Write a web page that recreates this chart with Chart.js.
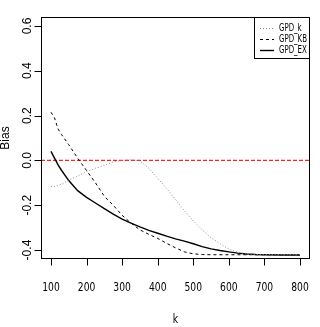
<!DOCTYPE html>
<html lang="en">
<head>
<meta charset="UTF-8">
<title>Bias vs k</title>
<script src="https://cdn.jsdelivr.net/npm/chart.js"></script>
<style>
body { margin:0; background:#fff; }
#wrap { width:320px; height:327px; }
</style>
</head>
<body>
<div id="wrap"><canvas id="biasChart" width="320" height="327"></canvas></div>
<script>
// data (k on x, bias on y)
const kValues = [100, 110, 120, 130, 150, 175, 200, 225, 250, 275, 300, 325, 350, 375, 400, 425, 450, 475, 500, 525, 550, 575, 600, 625, 650, 675, 700, 750, 800];
const gpdK  = [-0.117, -0.117, -0.112, -0.106, -0.088, -0.07, -0.05, -0.035, -0.022, -0.007, 0.0, 0.003, -0.002, -0.035, -0.08, -0.125, -0.175, -0.225, -0.27, -0.31, -0.345, -0.372, -0.395, -0.41, -0.418, -0.42, -0.42, -0.42, -0.42];
const gpdKB = [0.215, 0.19, 0.14, 0.115, 0.07, 0.01, -0.045, -0.1, -0.16, -0.2, -0.245, -0.28, -0.31, -0.33, -0.348, -0.37, -0.39, -0.408, -0.417, -0.42, -0.421, -0.421, -0.421, -0.421, -0.421, -0.421, -0.421, -0.421, -0.421];
const gpdEX = [0.04, 0.01, -0.02, -0.045, -0.09, -0.135, -0.165, -0.19, -0.215, -0.24, -0.262, -0.28, -0.297, -0.312, -0.325, -0.338, -0.35, -0.36, -0.372, -0.385, -0.395, -0.402, -0.408, -0.414, -0.418, -0.42, -0.421, -0.422, -0.422];
const seriesNames = ['GPD_k', 'GPD_KB', 'GPD_EX'];
const refLevel = 0;

const xTicks = [100, 200, 300, 400, 500, 600, 700, 800];
const yTicks = [-0.4, -0.2, 0.0, 0.2, 0.4, 0.6];
const xRange = [72, 828];
const yRange = [-0.44, 0.64];

const narrow = "'Liberation Sans Narrow', 'DejaVu Sans Condensed', 'Liberation Sans', sans-serif";
const regular = "'Liberation Sans', Arial, sans-serif";

function pts(ys) {
  return kValues.map((k, i) => ({x: k, y: ys[i]}));
}

// squeezed text, R's png output draws the x labels quite narrow
function squeezed(ctx, txt, x, y, sx) {
  ctx.save();
  ctx.translate(x, y);
  ctx.scale(sx, 1);
  ctx.fillText(txt, 0, 0);
  ctx.restore();
}

// box, ticks, labels and the boxed legend, R style
const rStyle = {
  id: 'rStyle',
  afterDraw(chart) {
    const ctx = chart.ctx;
    const a = chart.chartArea;
    const xs = chart.scales.x, ys = chart.scales.y;
    const L = Math.round(a.left) + 0.5, B = Math.round(a.bottom) - 0.5;
    ctx.save();
    ctx.strokeStyle = '#000';
    ctx.lineWidth = 1;
    ctx.strokeRect(L, Math.round(a.top) + 0.5, Math.round(a.right - a.left) - 1, Math.round(a.bottom - a.top) - 1);

    // tick marks
    ctx.beginPath();
    xTicks.forEach(v => {
      const px = Math.round(xs.getPixelForValue(v)) + 0.5;
      ctx.moveTo(px, B); ctx.lineTo(px, B + 7);
    });
    yTicks.forEach(v => {
      const py = Math.round(ys.getPixelForValue(v)) + 0.5;
      ctx.moveTo(L, py); ctx.lineTo(L - 7, py);
    });
    ctx.stroke();

    ctx.fillStyle = '#000';
    ctx.font = '12px ' + regular;
    ctx.textAlign = 'center';
    ctx.textBaseline = 'alphabetic';
    yTicks.forEach(v => {
      ctx.save();
      ctx.translate(31, ys.getPixelForValue(v));
      ctx.rotate(-Math.PI / 2);
      ctx.fillText(v.toFixed(1), 0, 0);
      ctx.restore();
    });
    ctx.save();
    ctx.translate(9, 138);
    ctx.rotate(-Math.PI / 2);
    ctx.fillText('Bias', 0, 0);
    ctx.restore();

    ctx.font = '12px ' + narrow;
    xTicks.forEach(v => squeezed(ctx, String(v), xs.getPixelForValue(v), 291, 0.85));
    squeezed(ctx, 'k', (a.left + a.right) / 2, 323, 0.85);

    // legend
    const lw = 56, lh = 42;
    const lx = a.right - lw, ly = a.top;
    ctx.fillStyle = '#fff';
    ctx.fillRect(lx, ly, lw, lh);
    ctx.strokeStyle = '#000';
    ctx.strokeRect(Math.round(lx) + 0.5, Math.round(ly) + 0.5, lw - 1, lh - 1);
    ctx.font = '10px ' + narrow;
    ctx.textAlign = 'left';
    ctx.textBaseline = 'middle';
    seriesNames.forEach((name, i) => {
      const ds = chart.data.datasets[i];
      const yy = ly + 11 + i * 11;
      ctx.save();
      ctx.strokeStyle = ds.borderColor;
      ctx.lineWidth = ds.borderWidth;
      ctx.setLineDash(ds.borderDash || []);
      ctx.beginPath();
      ctx.moveTo(lx + 6, yy + 0.5);
      ctx.lineTo(lx + 20, yy + 0.5);
      ctx.stroke();
      ctx.restore();
      ctx.fillStyle = '#000';
      squeezed(ctx, name, lx + 25, yy, 0.78);
    });
    ctx.restore();
  }
};

new Chart(document.getElementById('biasChart'), {
  type: 'line',
  data: {
    datasets: [
      {label: seriesNames[0], data: pts(gpdK), borderColor: '#8c8c8c', borderWidth: 1, borderDash: [1, 2]},
      {label: seriesNames[1], data: pts(gpdKB), borderColor: '#000', borderWidth: 1, borderDash: [3, 3]},
      {label: seriesNames[2], data: pts(gpdEX), borderColor: '#000', borderWidth: 1.4},
      {label: 'ref', data: [{x: xRange[0], y: refLevel}, {x: xRange[1], y: refLevel}], borderColor: '#ff2020', borderWidth: 1.3, borderDash: [4, 2]}
    ]
  },
  options: {
    responsive: false,
    devicePixelRatio: 1,
    animation: false,
    events: [],
    layout: {padding: {top: 17, right: 10, left: 0, bottom: 0}},
    elements: {point: {radius: 0}, line: {tension: 0}},
    plugins: {legend: {display: false}, tooltip: {enabled: false}},
    scales: {
      x: {
        type: 'linear',
        min: xRange[0], max: xRange[1],
        afterFit: s => { s.height = 68; },
        grid: {display: false},
        border: {display: false},
        ticks: {display: false}
      },
      y: {
        type: 'linear',
        min: yRange[0], max: yRange[1],
        afterFit: s => { s.width = 41; },
        grid: {display: false},
        border: {display: false},
        ticks: {display: false}
      }
    }
  },
  plugins: [rStyle]
});
</script>
</body>
</html>
